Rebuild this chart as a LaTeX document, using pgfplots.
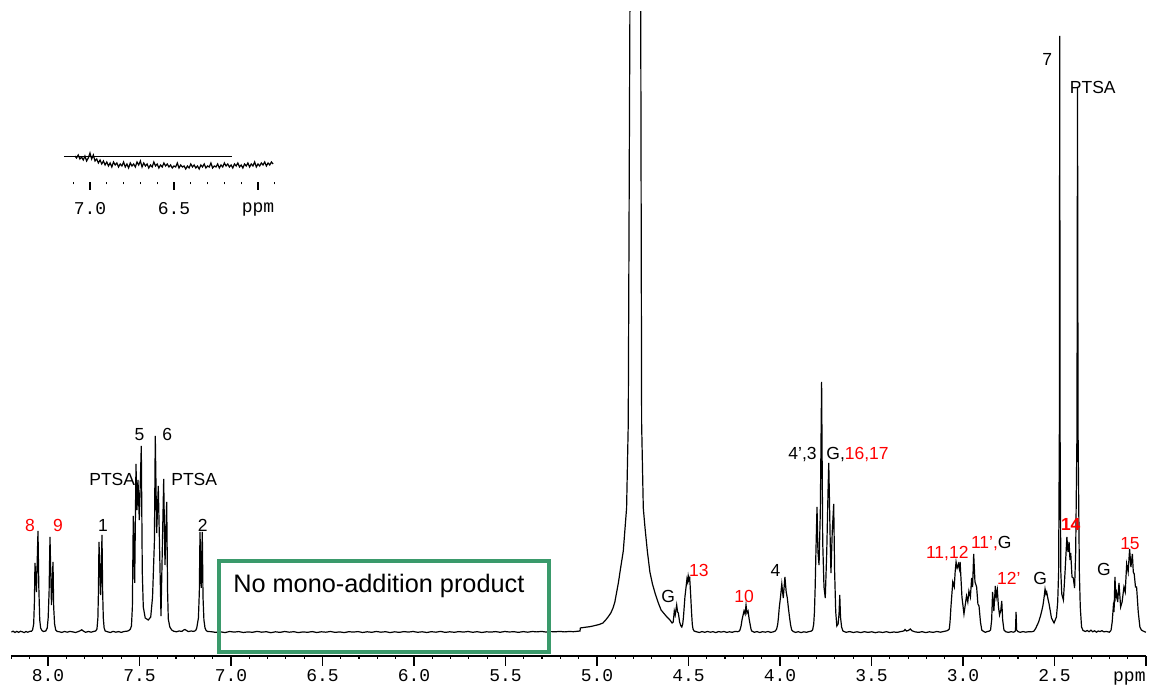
\documentclass[border=0pt]{standalone}
\usepackage{pgfplots}
\pgfplotsset{compat=1.18}
\usepackage{fontspec}
\setmainfont{Liberation Sans}
\newfontfamily\monofont{Liberation Mono}
\definecolor{boxgreen}{RGB}{58,154,107}
\pgfplotstableread{
x y
8.200 0
8.190 0.8
8.180 -0.5
8.170 0.6
8.160 -0.4
8.150 0.7
8.140 0.2
8.130 -0.6
8.120 0.5
8.110 -0.3
8.100 0.6
8.090 0.8
8.084 2
8.078 8
8.074 30
8.0709 69
8.063 40
8.0545 101
8.050 45
8.045 12
8.040 4
8.033 1.5
8.025 0.5
8.012 1
8.004 4
7.999 14
7.994 40
7.9891 95
7.981 27
7.9727 70
7.969 25
7.964 8
7.958 2
7.950 0.5
7.940 0.3
7.925 -0.4
7.910 0.5
7.895 -0.2
7.880 0.6
7.865 0.1
7.850 -0.5
7.835 0.4
7.825 1.2
7.816 2.2
7.808 1.0
7.795 -0.3
7.780 0.5
7.765 -0.2
7.750 0.6
7.740 1.0
7.733 3
7.728 14
7.725 40
7.722 90
7.713 37
7.7056 97
7.702 40
7.6985 14
7.694 4
7.688 1
7.675 0.2
7.660 -0.5
7.645 0.6
7.630 -0.2
7.615 0.4
7.600 -0.4
7.585 0.5
7.570 0.8
7.562 1.2
7.552 2.5
7.545 6
7.540 25
7.535 116
7.5274 49
7.5203 168
7.5148 122
7.5094 152
7.5023 112
7.4914 186
7.486 60
7.4805 25
7.470 14
7.4532 12
7.440 15
7.430 35
7.420 90
7.4151 196
7.4075 99
7.3987 146
7.384 16
7.3693 153
7.3622 67
7.3529 130
7.348 40
7.3442 13
7.336 5
7.3257 2
7.315 0.8
7.300 0.2
7.285 1
7.270 0.6
7.260 2.0
7.253 2.5
7.245 1.5
7.235 0.4
7.220 1.0
7.205 0.6
7.195 1.5
7.189 4
7.180 14
7.175 40
7.1714 100
7.1649 44
7.1589 100
7.155 35
7.150 12
7.144 4
7.138 1.5
7.130 0.5
7.110 0.3
7.085 -0.4
7.060 0.2
7.035 -0.6
7.010 0.5
6.985 -0.1
6.960 0.4
6.935 -0.5
6.910 0.1
6.885 -0.3
6.860 0.6
6.835 -0.2
6.810 0.3
6.785 -0.7
6.760 0.2
6.735 -0.4
6.710 0.5
6.685 -0.2
6.660 0.3
6.635 -0.6
6.610 0.1
6.585 -0.3
6.560 0.4
6.535 -0.5
6.510 0.2
6.485 -0.2
6.460 0.5
6.435 -0.4
6.410 0.1
6.385 -0.6
6.360 0.3
6.335 -0.1
6.310 0.4
6.285 -0.5
6.260 0.2
6.235 -0.3
6.210 0.5
6.185 -0.2
6.160 0.3
6.135 -0.6
6.110 0.2
6.085 -0.4
6.060 0.4
6.035 -0.1
6.010 0.5
5.985 -0.3
5.960 0.2
5.935 -0.5
5.910 0.3
5.885 -0.2
5.860 0.6
5.835 -0.4
5.810 0.2
5.785 -0.3
5.760 0.4
5.735 -0.1
5.710 0.5
5.685 -0.3
5.660 0.3
5.635 -0.5
5.610 0.2
5.585 -0.1
5.560 0.4
5.535 -0.3
5.510 0.5
5.485 0.0
5.460 0.3
5.435 -0.4
5.410 0.4
5.385 -0.2
5.360 0.5
5.335 0.1
5.310 0.6
5.285 -0.1
5.260 0.4
5.235 0.2
5.210 0.6
5.185 0.1
5.160 0.5
5.135 0.3
5.115 0.7
5.100 1.0
5.098 4.0
5.080 4.5
5.060 5.0
5.040 5.5
5.018 6.5
4.995 7.5
4.975 9
4.960 12
4.947 15
4.932 19
4.920 24
4.910 30
4.900 40
4.890 50
4.882 60
4.864 81
4.846 124
4.837 208
4.828 620
4.815 1500
4.799 4000
4.785 1500
4.769 620
4.764 208
4.755 124
4.746 105
4.733 81
4.719 60
4.705 48
4.691 39
4.675 30
4.658 22
4.640 18
4.626 15
4.610 12
4.598 9
4.592 10
4.589 15
4.586 21
4.581 17
4.573 27
4.568 20
4.564 19
4.557 10
4.550 6
4.545 5
4.540 8
4.536 15
4.528 35
4.520 48
4.517 53
4.513 50
4.510 56
4.506 52
4.502 54
4.497 38
4.492 20
4.488 8
4.484 3
4.478 1
4.465 0.2
4.450 -0.5
4.435 0.4
4.420 -0.3
4.405 0.5
4.390 -0.2
4.375 0.3
4.360 -0.6
4.345 0.4
4.330 -0.1
4.315 0.5
4.300 -0.4
4.285 0.2
4.270 -0.3
4.255 0.6
4.240 0.3
4.232 1
4.228 2
4.222 6
4.217 12
4.211 17
4.206 21
4.200 18
4.195 27
4.190 19
4.184 21
4.178 13
4.173 8
4.168 3
4.164 1
4.150 -0.3
4.135 0.4
4.120 -0.5
4.105 0.3
4.090 -0.2
4.075 0.5
4.060 -0.4
4.045 0.2
4.035 1.0
4.028 3
4.022 8
4.018 15
4.014 24
4.007 35
4.000 48
3.992 34
3.983 55
3.976 40
3.970 34
3.964 24
3.958 15
3.952 7
3.946 2
3.938 0.5
3.925 -0.4
3.910 0.3
3.895 -0.6
3.880 0.2
3.865 -0.3
3.850 0.5
3.840 0.8
3.832 2
3.826 8
3.822 20
3.818 45
3.814 80
3.808 125
3.803 80
3.797 67
3.790 120
3.783 250
3.777 90
3.770 45
3.763 34
3.755 80
3.748 140
3.744 169
3.740 130
3.736 90
3.732 59
3.725 100
3.717 128
3.712 60
3.706 20
3.700 6
3.693 8
3.688 18
3.684 37
3.680 15
3.674 5
3.667 1
3.650 -0.3
3.630 0.4
3.610 -0.5
3.590 0.2
3.570 -0.6
3.550 0.3
3.530 -0.4
3.510 0.2
3.490 -0.7
3.470 0.1
3.450 -0.5
3.430 0.3
3.410 -0.6
3.390 0.0
3.370 -0.4
3.350 0.5
3.335 1.0
3.328 2.5
3.320 1.0
3.310 1.5
3.300 3.0
3.290 1.2
3.275 0.2
3.255 -0.4
3.235 0.3
3.215 -0.6
3.195 0.2
3.175 -0.4
3.155 0.5
3.135 -0.2
3.115 0.6
3.100 1.2
3.093 2
3.087 3
3.083 10
3.078 25
3.072 40
3.068 50
3.060 45
3.055 60
3.050 70
3.044 64
3.037 68
3.032 63
3.028 70
3.018 35
3.007 18
2.993 36
2.986 30
2.980 41
2.972 35
2.965 54
2.960 45
2.954 78
2.947 50
2.938 45
2.931 28
2.925 26
2.917 10
2.910 2
2.900 0.5
2.890 -0.3
2.880 0.4
2.870 0.8
2.862 2
2.856 12
2.851 40
2.844 21
2.836 46
2.831 35
2.825 42
2.819 25
2.813 17
2.806 22
2.801 31
2.796 12
2.789 2
2.780 0.3
2.765 -0.4
2.750 0.3
2.737 -0.2
2.729 0.5
2.726 2
2.723 20
2.720 2
2.712 0.3
2.700 -0.3
2.685 0.4
2.670 -0.2
2.655 0.3
2.640 0.1
2.630 0.6
2.625 1
2.615 4
2.600 10
2.590 16
2.583 21
2.576 27
2.570 35
2.565 43
2.560 38
2.556 40
2.549 33
2.543 28
2.530 14
2.516 9
2.503 15
2.496 30
2.491 60
2.487 200
2.485 596
2.483 200
2.479 60
2.474 38
2.465 32
2.456 60
2.446 95
2.440 80
2.434 90
2.429 72
2.425 79
2.418 55
2.411 54
2.404 44
2.398 80
2.391 200
2.388 545
2.385 200
2.378 60
2.373 25
2.366 5
2.358 1.5
2.345 0.5
2.335 1.5
2.325 0.3
2.315 1.8
2.305 0.2
2.295 1.2
2.285 -0.2
2.275 1.0
2.265 0.4
2.255 1.3
2.245 0.2
2.230 0.5
2.215 -0.2
2.208 1
2.205 2
2.199 10
2.193 25
2.189 20
2.184 55
2.179 35
2.175 39
2.169 30
2.162 49
2.153 25
2.145 30
2.135 45
2.128 40
2.120 68
2.112 60
2.104 83
2.097 65
2.089 78
2.084 60
2.079 58
2.072 45
2.066 45
2.057 20
2.048 5
2.040 2
2.031 1
2.022 0.3
2.015 -0.3
}\spectrum
\pgfplotstableread{
x y
7.09 26
7.08 24
7.07 27
7.06 23
7.05 25
7.04 22
7.03 26
7.02 21
7.01 24
7.00 29
6.99 23
6.98 27
6.97 21
6.96 23
6.95 19
6.94 22
6.93 18
6.92 21
6.91 17
6.90 20
6.89 16
6.88 19
6.87 15
6.86 20
6.85 17
6.84 19
6.83 15
6.82 18
6.81 16
6.80 20
6.79 15
6.78 18
6.77 14
6.76 19
6.75 16
6.74 18
6.73 15
6.72 20
6.71 17
6.70 21
6.69 15
6.68 19
6.67 16
6.66 18
6.65 14
6.64 17
6.63 15
6.62 20
6.61 16
6.60 18
6.59 14
6.58 17
6.57 15
6.56 19
6.55 16
6.54 18
6.53 15
6.52 17
6.51 14
6.50 16
6.49 15
6.48 19
6.47 14
6.46 17
6.45 15
6.44 16
6.43 13
6.42 16
6.41 14
6.40 18
6.39 15
6.38 17
6.37 14
6.36 16
6.35 13
6.34 17
6.33 15
6.32 18
6.31 14
6.30 16
6.29 15
6.28 19
6.27 14
6.26 16
6.25 15
6.24 18
6.23 14
6.22 17
6.21 15
6.20 19
6.19 16
6.18 18
6.17 15
6.16 17
6.15 14
6.14 18
6.13 16
6.12 19
6.11 15
6.10 17
6.09 14
6.08 18
6.07 16
6.06 19
6.05 15
6.04 18
6.03 16
6.02 20
6.01 15
6.00 18
5.99 16
5.98 19
5.97 17
5.96 20
5.95 16
5.94 19
5.93 17
5.92 20
5.91 18
}\insetdata
\begin{document}
\begin{tikzpicture}[lbl/.style={font=\fontsize{8.75}{10}\selectfont, anchor=base, inner sep=0pt}]
\useasboundingbox (0,0) rectangle (575.5pt,344pt);
\begin{axis}[
  at={(5.7pt,16pt)}, anchor=south west,
  scale only axis, width=567.3pt, height=322pt,
  xmin=2.01472, xmax=8.19951, ymin=-24, ymax=620,
  x dir=reverse,
  axis x line*=bottom, axis y line=none, ytick=\empty,
  tick align=outside,
  xtick={2.01472,2.51350,3.01227,3.51104,4.00982,4.50859,5.00736,5.50613,6.00491,6.50368,7.00245,7.50123,8.0},
  xticklabels={,2.5,3.0,3.5,4.0,4.5,5.0,5.5,6.0,6.5,7.0,7.5,8.0},
  minor xtick={2.11448,2.21423,2.31399,2.41374,2.61325,2.71301,2.81276,2.91252,3.11202,3.21178,3.31153,3.41129,3.61080,3.71055,3.81031,3.91006,4.10957,4.20933,4.30908,4.40883,4.60834,4.70810,4.80785,4.90761,5.10712,5.20687,5.30663,5.40638,5.60589,5.70564,5.80540,5.90515,6.10466,6.20442,6.30417,6.40393,6.60344,6.70319,6.80294,6.90270,7.10221,7.20196,7.30172,7.40147,7.60098,7.70074,7.80049,7.90025,8.09975,8.19951},
  major tick length=4.8pt, minor tick length=1.4pt,
  every tick/.style={black, line width=0.6pt},
  axis line style={line width=0.7pt},
  xticklabel style={font=\monofont\fontsize{9}{10}\selectfont, yshift=1.5pt},
  clip mode=individual,
]
\addplot[black, line width=0.6pt] table[x=x,y=y] {\spectrum};
\draw[boxgreen, line width=2pt] (axis cs:7.066,-20.3) rectangle (axis cs:5.267,71.3);
\node[anchor=base west, inner sep=0pt, font=\fontsize{12.65}{14}\selectfont] at (axis cs:6.992,39) {No mono-addition product};
\node[anchor=base east, inner sep=0pt, font=\monofont\fontsize{9}{10}\selectfont] at (axis cs:2.01472,-24) [yshift=-13pt] {ppm};
\node[lbl, red] at (axis cs:8.098,100.3) {8};
\node[lbl, red] at (axis cs:7.945,100.3) {9};
\node[lbl] at (axis cs:7.700,100.3) {1};
\node[lbl] at (axis cs:7.650,146) {PTSA};
\node[lbl] at (axis cs:7.501,191) {5};
\node[lbl] at (axis cs:7.350,191) {6};
\node[lbl] at (axis cs:7.203,146) {PTSA};
\node[lbl] at (axis cs:7.156,100.3) {2};
\node[lbl] at (axis cs:4.620,29.3) {G};
\node[lbl, red] at (axis cs:4.452,55.3) {13};
\node[lbl, red] at (axis cs:4.205,29.3) {10};
\node[lbl] at (axis cs:4.035,55.3) {4};
\node[lbl] at (axis cs:3.887,172) {4',3};
\node[lbl] at (axis cs:3.587,172) {G,\textcolor{red}{16,17}};
\node[lbl, red] at (axis cs:3.098,73) {11,12};
\node[lbl] at (axis cs:2.858,83) {\textcolor{red}{11',}G};
\node[lbl, red] at (axis cs:2.763,47) {12'};
\node[lbl] at (axis cs:2.591,47.7) {G};
\node[lbl, red, font=\bfseries\fontsize{8.75}{10}\selectfont] at (axis cs:2.425,101.3) {14};
\node[lbl] at (axis cs:2.244,56) {G};
\node[lbl, red] at (axis cs:2.102,82) {15};
\node[lbl] at (axis cs:2.553,566) {7};
\node[lbl] at (axis cs:2.305,538.7) {PTSA};
\end{axis}
\begin{axis}[
  at={(31.55pt,253pt)}, anchor=south west,
  scale only axis, width=105.84pt, height=20pt,
  xmin=5.9, xmax=7.16, ymin=0, ymax=40,
  x dir=reverse,
  axis x line*=bottom, axis y line=none, ytick=\empty,
  x axis line style={draw=none},
  tick align=outside,
  xtick={6.0,6.5,7.0}, xticklabels={ppm,6.5,7.0},
  minor xtick={5.9,6.1,6.2,6.3,6.4,6.6,6.7,6.8,6.9,7.1},
  major tick length=3.8pt, minor tick length=1.25pt,
  every tick/.style={black, line width=0.6pt},
  xticklabel style={font=\monofont\fontsize{9}{10}\selectfont, yshift=-3pt},
  clip=false,
]
\addplot[black, line width=0.6pt] table[x=x,y=y] {\insetdata};
\addplot[black, line width=0.6pt] coordinates {(7.155,25.3) (6.157,25.3)};
\end{axis}
\end{tikzpicture}
\end{document}
